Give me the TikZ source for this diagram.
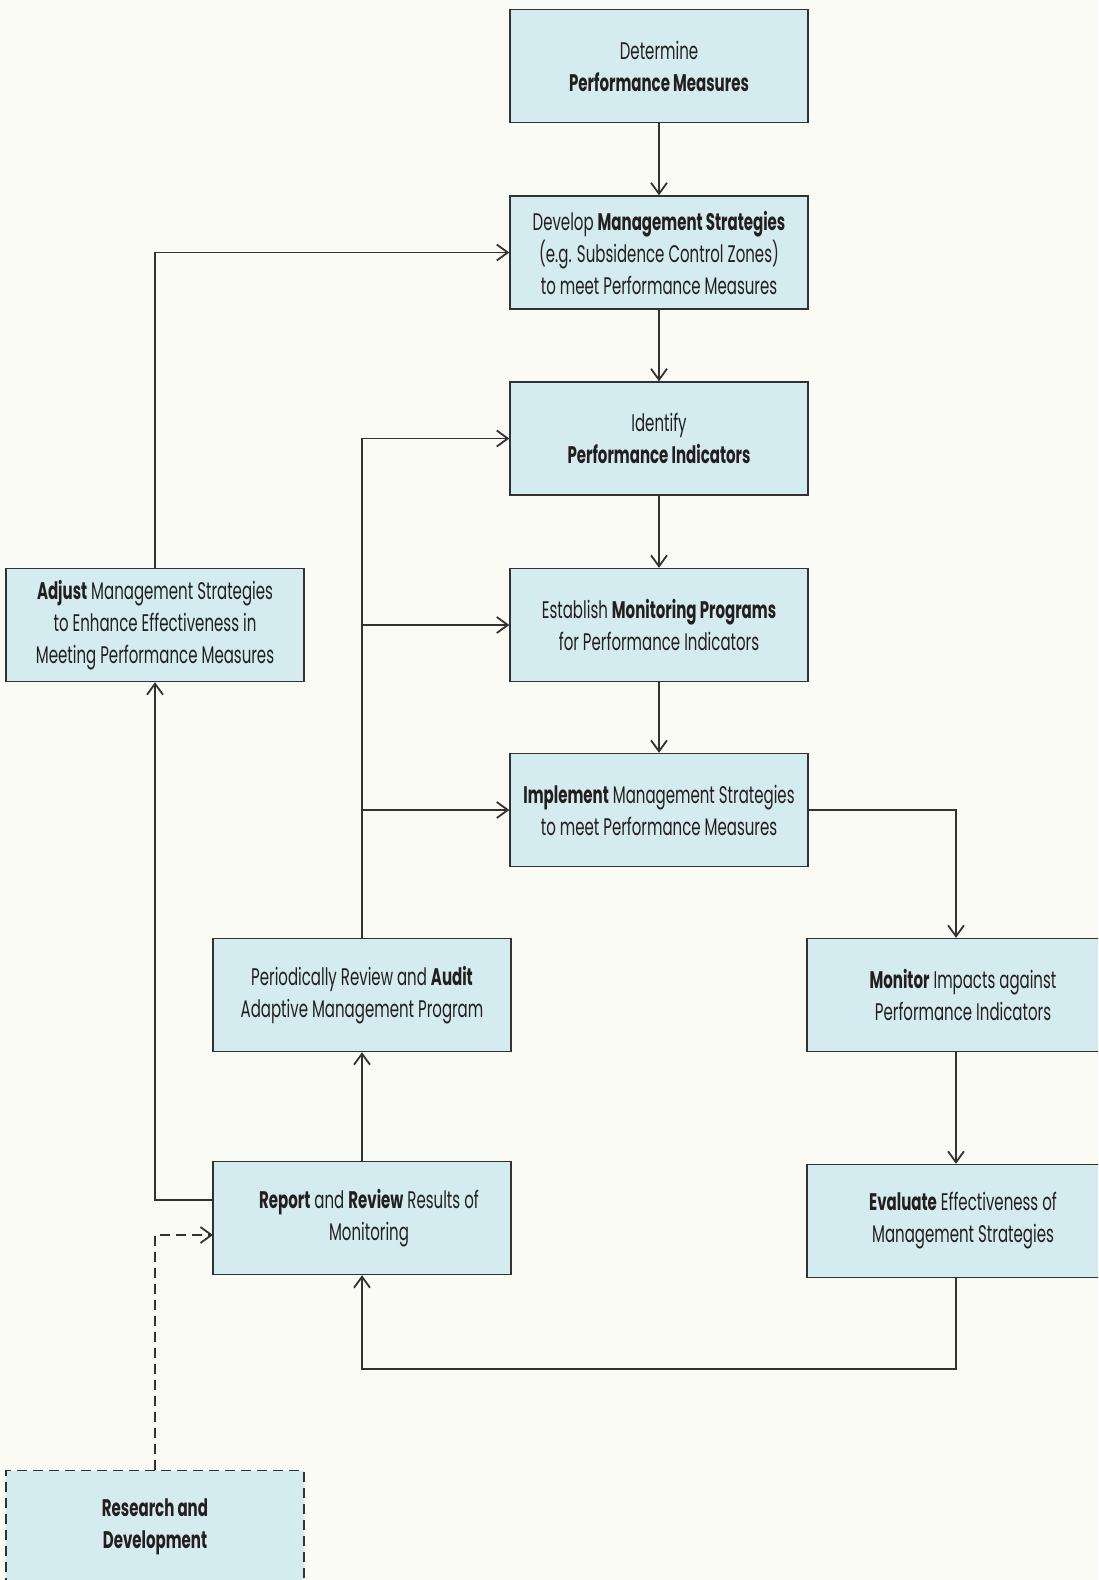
\documentclass[tikz,border=0pt]{standalone}
\usepackage{fontspec}
\setmainfont{Poppins}[FakeStretch=0.625]
\usetikzlibrary{arrows.meta}
\definecolor{bg}{RGB}{251,251,245}
\definecolor{boxfill}{RGB}{212,235,239}
\definecolor{edge}{RGB}{50,50,50}
\definecolor{txt}{RGB}{35,31,32}
\newcommand{\shr}{\hspace*{7pt}}
\begin{document}
\begin{tikzpicture}[x=0.5pt,y=-0.5pt,
  box/.style={draw=edge, fill=boxfill, line width=0.7pt, minimum width=149pt, minimum height=56.5pt,
    inner sep=0pt, align=center, font=\fontsize{12}{16}\selectfont, text=txt},
  dashbox/.style={box, dash pattern=on 5pt off 3pt},
  conn/.style={draw=edge, line width=0.65pt, -{Straight Barb[length=5.5pt,width=8pt,line width=0.9pt]}},
  dconn/.style={conn, dash pattern=on 5pt off 3pt}]
\useasboundingbox (0,0) rectangle (1098,1580);
\clip (0,0) rectangle (1098,1580);
\fill[bg] (0,0) rectangle (1098,1580);

\node[box] (det) at (659,66) {Determine\\\textbf{Performance Measures}};
\node[box] (dev) at (659,252.5) {Develop \textbf{Management Strategies}\\(e.g. Subsidence Control Zones)\\to meet Performance Measures};
\node[box] (ind) at (659,438.5) {Identify\\\textbf{Performance Indicators}};
\node[box] (est) at (659,625) {Establish \textbf{Monitoring Programs}\\for Performance Indicators};
\node[box] (imp) at (659,810) {\textbf{Implement} Management Strategies\\to meet Performance Measures};
\node[box] (adj) at (155,625) {\textbf{Adjust} Management Strategies\\to Enhance Effectiveness in\\Meeting Performance Measures};
\node[box] (per) at (362,995) {Periodically Review and \textbf{Audit}\\Adaptive Management Program};
\node[box] (rep) at (362,1218) {\shr\textbf{Report} and \textbf{Review} Results of\\\shr Monitoring};
\node[box] (mon) at (956,995) {\shr\textbf{Monitor} Impacts against\\\shr Performance Indicators};
\node[box] (eva) at (956,1221) {\shr\textbf{Evaluate} Effectiveness of\\\shr Management Strategies};
\node[dashbox] (res) at (155,1527) {\textbf{Research and}\\\textbf{Development}};

\coordinate (loop) at (362,1369);
\coordinate (repA) at (213,1200);
\coordinate (repB) at (213,1235);

\draw[conn] (det) -- (dev);
\draw[conn] (dev) -- (ind);
\draw[conn] (ind) -- (est);
\draw[conn] (est) -- (imp);
\draw[conn] (adj.north) |- (dev.west);
\draw[conn] (per.north) |- (ind.west);
\draw[conn] (per.north) |- (est.west);
\draw[conn] (per.north) |- (imp.west);
\draw[conn] (imp.east) -| (mon.north);
\draw[conn] (mon) -- (eva);
\draw[conn] (eva.south) |- (loop) -- (rep.south);
\draw[conn] (rep.north) -- (per.south);
\draw[conn] (repA) -| (adj.south);
\draw[dconn] (res.north) |- (repB);
\end{tikzpicture}
\end{document}
